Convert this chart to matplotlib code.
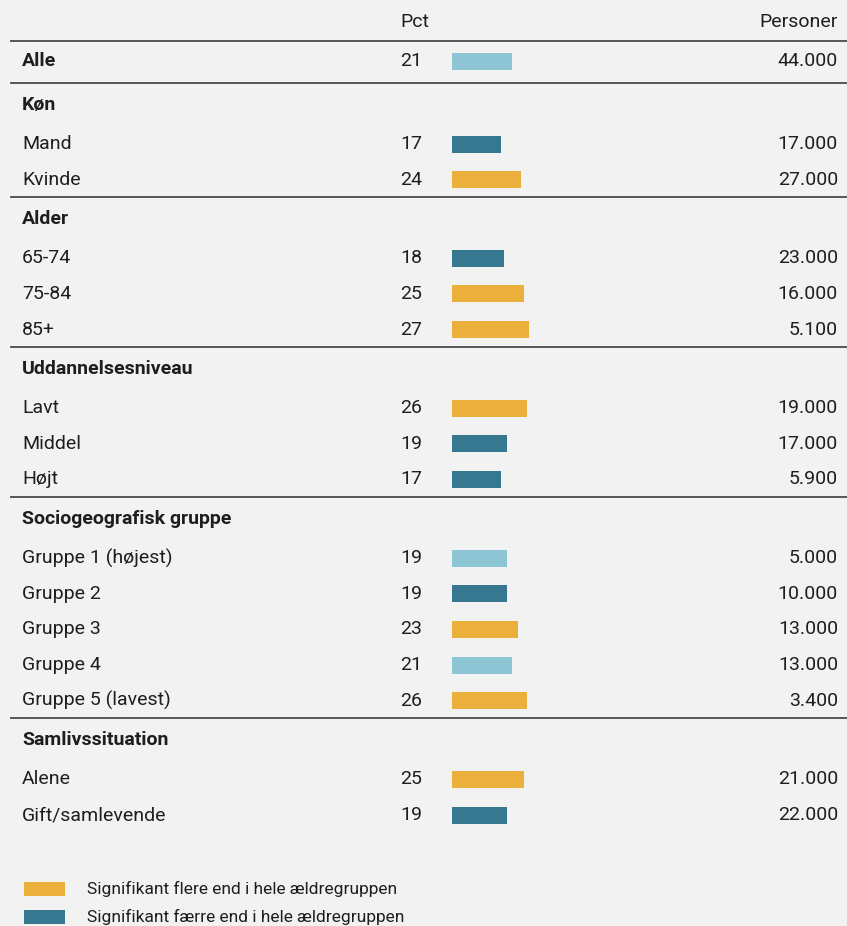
import matplotlib
matplotlib.use("Agg")
import matplotlib.pyplot as plt
from matplotlib.patches import Rectangle

plt.rcParams['font.family'] = ['Roboto', 'DejaVu Sans']

# ---- data -------------------------------------------------------------
groups = ["Køn", "Alder", "Uddannelsesniveau", "Sociogeografisk gruppe", "Samlivssituation"]
group_items = [
    ["Mand", "Kvinde"],
    ["65-74", "75-84", "85+"],
    ["Lavt", "Middel", "Højt"],
    ["Gruppe 1 (højest)", "Gruppe 2", "Gruppe 3", "Gruppe 4", "Gruppe 5 (lavest)"],
    ["Alene", "Gift/samlevende"],
]
group_pct = [
    [17, 24],
    [18, 25, 27],
    [26, 19, 17],
    [19, 19, 23, 21, 26],
    [25, 19],
]
group_persons = [
    ["17.000", "27.000"],
    ["23.000", "16.000", "5.100"],
    ["19.000", "17.000", "5.900"],
    ["5.000", "10.000", "13.000", "13.000", "3.400"],
    ["21.000", "22.000"],
]
# significance vs. all elderly: +1 more, -1 fewer, 0 not significant
group_sig = [
    [-1, 1],
    [-1, 1, 1],
    [1, -1, -1],
    [0, -1, 1, 0, 1],
    [1, -1],
]
total_label = "Alle"
total_pct = 21
total_persons = "44.000"
total_sig = 0

legend_labels = [
    "Signifikant flere end i hele ældregruppen",
    "Signifikant færre end i hele ældregruppen",
]

# ---- style ------------------------------------------------------------
BG = "#f2f2f2"
TXT = "#1e1e1e"
RULE = "#4a4a4a"
COLORS = {1: "#eab03b", -1: "#35788f", 0: "#8ec5d5"}
FS = 14

W, H = 847, 926
fig = plt.figure(figsize=(W / 100, H / 100), dpi=100, facecolor=BG)
ax = fig.add_axes([0, 0, 1, 1])
ax.set_xlim(0, W)
ax.set_ylim(H, 0)
ax.axis("off")
ax.set_facecolor(BG)

# bar axes: percentage scale
BAR_X0, PX_PER_PCT = 452, 2.87
bax = fig.add_axes([BAR_X0 / W, 0, 100 * PX_PER_PCT / W, 1])
bax.set_xlim(0, 100)
bax.set_ylim(H, 0)
bax.axis("off")
bax.patch.set_alpha(0)

X_LABEL, X_PCT, X_PERS = 22, 400, 838
BAR_H = 17


def rule(y):
    ax.plot([10, W], [y, y], color=RULE, lw=1.3, solid_capstyle="butt")


def row(y, label, pct, persons, sig, bold=False):
    ax.text(X_LABEL, y, label, fontsize=FS, color=TXT, va="center",
            fontweight="bold" if bold else "normal")
    ax.text(X_PCT, y, f"{pct}", fontsize=FS, color=TXT, va="center")
    ax.text(X_PERS, y, persons, fontsize=FS, color=TXT, va="center", ha="right")
    bax.barh(y, pct, height=BAR_H, left=0, color=COLORS[sig], linewidth=0)


# header
ax.text(X_PCT, 22, "Pct", fontsize=FS, color=TXT, va="center")
ax.text(X_PERS, 22, "Personer", fontsize=FS, color=TXT, va="center", ha="right")
rule(40.5)
row(61.5, total_label, total_pct, total_persons, total_sig, bold=True)
line_y = 83
rule(line_y)

STEP = 35.7
for gi, gname in enumerate(groups):
    hy = line_y + 22
    ax.text(X_LABEL, hy, gname, fontsize=FS, color=TXT, va="center", fontweight="bold")
    y = hy + 39
    for lab, p, pers, s in zip(group_items[gi], group_pct[gi], group_persons[gi], group_sig[gi]):
        row(y, lab, p, pers, s)
        last = y
        y += STEP
    if gi < len(groups) - 1:
        line_y = last + 17.5
        rule(line_y)

# legend
for i, (lab, sig) in enumerate(zip(legend_labels, [1, -1])):
    ly = 889 + 27.5 * i
    ax.add_patch(Rectangle((24, ly - 7), 41, 14, color=COLORS[sig], lw=0))
    ax.text(87, ly, lab, fontsize=12.5, color=TXT, va="center")

fig.savefig("out.png", dpi=100, facecolor=BG)
